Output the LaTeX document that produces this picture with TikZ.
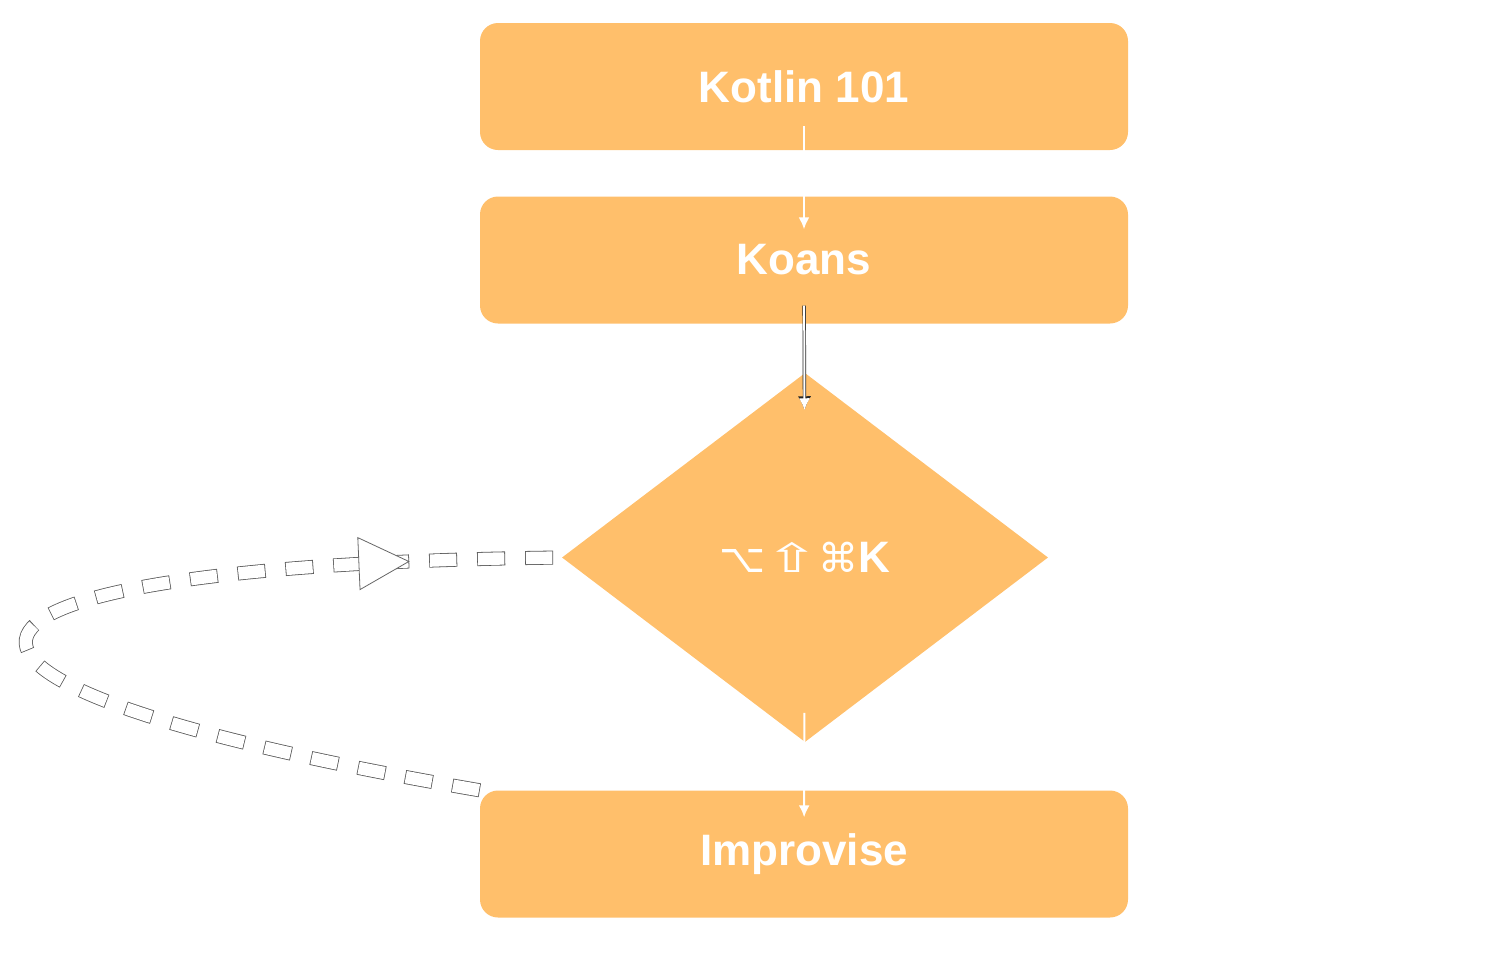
\documentclass[tikz,border=0pt]{standalone}
\usepackage{fontspec}
\setmainfont{Liberation Sans}
\newfontfamily\keysfont{DejaVu Sans}
\usetikzlibrary{shapes.geometric}
\usetikzlibrary{arrows.meta}
\usetikzlibrary{decorations.markings}
\definecolor{koanorange}{RGB}{255,191,107}
\newcommand{\bigbf}{\fontsize{44}{50}\selectfont\bfseries}

\begin{document}
\begin{tikzpicture}[x=1pt, y=-1pt, >={Latex[length=12pt,width=11pt]},
    box/.style={rectangle, fill=koanorange, rounded corners=18pt,
      minimum width=648pt, minimum height=127pt, text=white, font=\bigbf},
    decision/.style={diamond, fill=koanorange, minimum width=486pt,
      minimum height=369pt, inner sep=0pt, text=white, font=\fontsize{44}{50}\selectfont},
    flow/.style={->, white, line width=2pt, shorten <=-24pt, shorten >=-33pt},
    loopedge/.style={draw=black!65, line width=14pt, dash pattern=on 28pt off 20pt},
    loopfill/.style={draw=white, line width=12.4pt, dash pattern=on 26.4pt off 21.6pt, dash phase=47.2pt}]

      \useasboundingbox (0,0) rectangle (1490,962);

      \node [box, name=kotlin] at (804,86.5) {Kotlin 101};
      \node [box, name=koans] at (804,260) {Koans};
      \node [decision, name=check] at (805,557.5)
      {{\keysfont\fontsize{40}{48}\selectfont ⌥\scalebox{1.6}[1]{⇧}⌘}{\bfseries K}};
      \node [box, name=improvise] at (804,854) {\raisebox{-3pt}{Improvise}};

      \draw [flow] (kotlin) -- (koans);
      % outlined one
      \draw [flow, black!85, line width=3.4pt, shorten <=-18pt, shorten >=-37pt,
        -{Latex[length=14pt,width=13.5pt]}] (koans) -- (check);
      \draw [flow, shorten <=-18pt, shorten >=-37pt] (koans) -- (check);
      \draw [flow, shorten <=-29pt, shorten >=-27pt] (check) -- (improvise);

      % dashed way back
      \draw [loopedge] (improvise.north west) .. controls (-165,680) and (-110,565) .. (check.west);
      \draw [loopfill, postaction={decorate, decoration={markings,
          mark=at position -153pt with {\filldraw [fill=white, draw=black!60, line width=0.8pt, solid]
            (0,0) -- (-50,26) -- (-50,-26) -- cycle;}}}]
        (improvise.north west) .. controls (-165,680) and (-110,565) .. (check.west);

    \end{tikzpicture}
\end{document}
